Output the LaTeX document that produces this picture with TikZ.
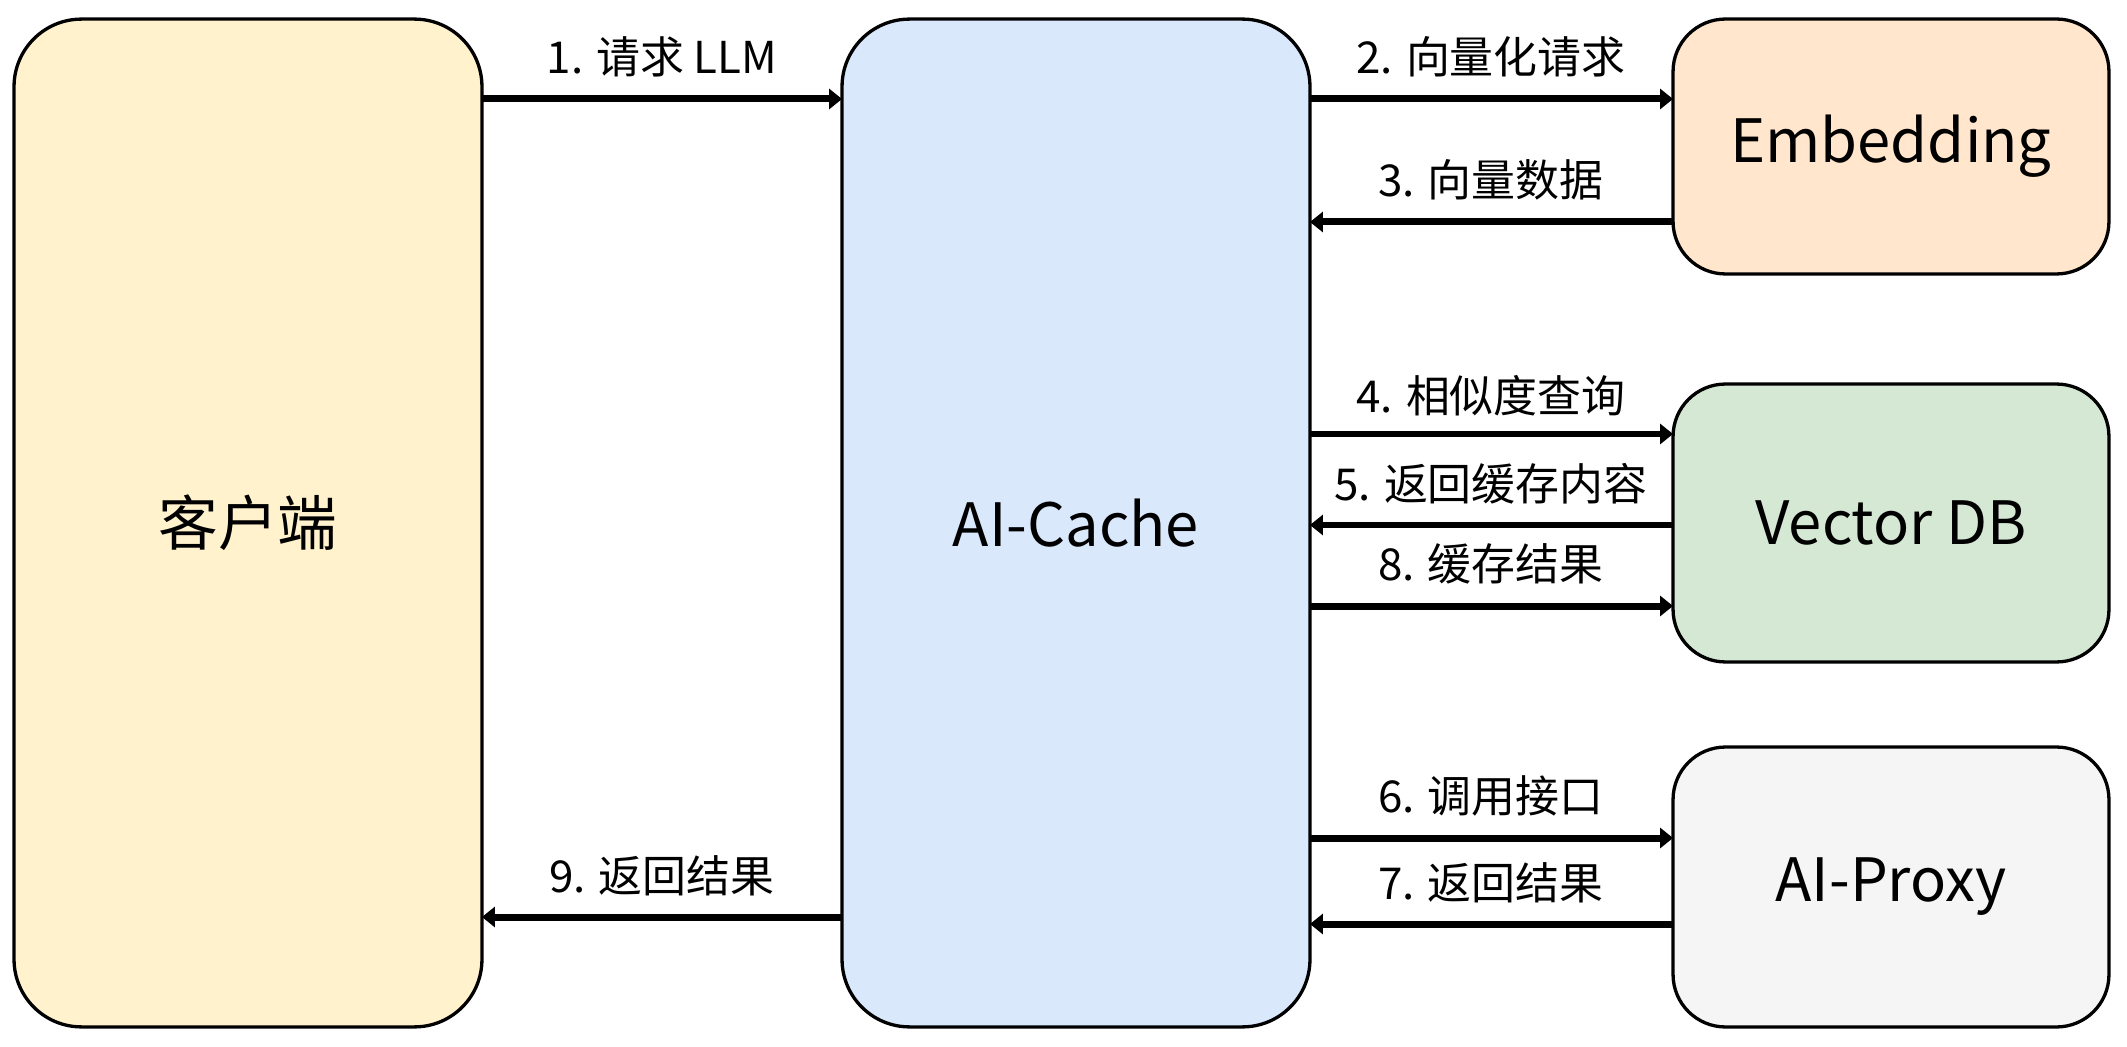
\documentclass[tikz,border=0pt]{standalone}
\usepackage{fontspec}
\setmainfont{Noto Sans CJK SC}
\usetikzlibrary{arrows.meta}
\definecolor{cyel}{HTML}{FFF2CC}
\definecolor{cblue}{HTML}{DAE8FC}
\definecolor{corange}{HTML}{FFE6CC}
\definecolor{cgreen}{HTML}{D5E8D4}
\definecolor{cgrey}{HTML}{F5F5F5}
\begin{document}
\begin{tikzpicture}[x=0.02cm,y=-0.02cm,
  box/.style={draw=black,line width=0.066cm,rounded corners=1.35cm,inner sep=0pt,outer sep=0pt,font=\fontsize{34}{40}\selectfont},
  sbox/.style={box,rounded corners=1.05cm,minimum width=8.72cm},
  arr/.style={line width=0.14cm,-{Triangle[length=0.26cm,width=0.4cm]}},
  lbl/.style={font=\fontsize{25}{30}\selectfont,inner sep=0pt}]
\useasboundingbox (0,0) rectangle (2127,1047);
\node[box,fill=cyel,minimum width=9.36cm,minimum height=20.16cm] (client) at (248,523) {客户端};
\node[box,fill=cblue,minimum width=9.36cm,minimum height=20.16cm] (cache) at (1076,523) {AI-Cache};
\node[sbox,fill=corange,minimum height=5.1cm] (emb) at (1891,146.5) {Embedding};
\node[sbox,fill=cgreen,minimum height=5.56cm] (vdb) at (1891,523) {Vector DB};
\node[sbox,fill=cgrey,minimum height=5.6cm] (proxy) at (1891,887) {AI-Proxy};

\draw[arr] (client.east |- {0,99}) -- (cache.west |- {0,99});
\node[lbl] (l1) at (662,57) {1. 请求 LLM};
\draw[arr] (cache.east |- {0,99}) -- (emb.west |- {0,99});
\node[lbl] (l2) at (1491,57) {2. 向量化请求};
\draw[arr] (emb.west |- {0,222}) -- (cache.east |- {0,222});
\node[lbl] (l3) at (1491,180) {3. 向量数据};
\draw[arr] (cache.east |- {0,434}) -- (vdb.west |- {0,434});
\node[lbl] (l4) at (1491,396) {4. 相似度查询};
\draw[arr] (vdb.west |- {0,525}) -- (cache.east |- {0,525});
\node[lbl] (l5) at (1491,484) {5. 返回缓存内容};
\draw[arr] (cache.east |- {0,606}) -- (vdb.west |- {0,606});
\node[lbl] (l8) at (1491,564) {8. 缓存结果};
\draw[arr] (cache.east |- {0,838}) -- (proxy.west |- {0,838});
\node[lbl] (l6) at (1491,796) {6. 调用接口};
\draw[arr] (proxy.west |- {0,924}) -- (cache.east |- {0,924});
\node[lbl] (l7) at (1491,883) {7. 返回结果};
\draw[arr] (cache.west |- {0,917}) -- (client.east |- {0,917});
\node[lbl] (l9) at (662,876) {9. 返回结果};
\end{tikzpicture}
\end{document}
